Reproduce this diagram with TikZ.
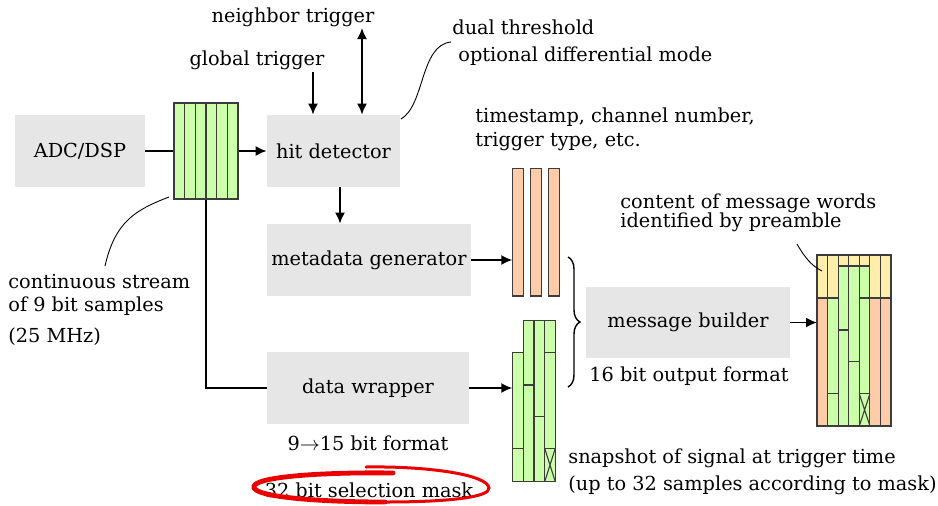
\documentclass[tikz,border=0pt]{standalone}
\usepackage{fontspec}
\setmainfont{DejaVu Serif}
\usetikzlibrary{arrows.meta,decorations.pathreplacing}
\definecolor{boxgray}{RGB}{230,230,230}
\definecolor{cgreen}{RGB}{204,255,170}
\definecolor{csalmon}{RGB}{255,204,170}
\definecolor{cyellow}{RGB}{255,238,170}
\definecolor{cellline}{RGB}{60,60,60}
\definecolor{penred}{RGB}{235,0,0}
\begin{document}
\begin{tikzpicture}[x=0.5pt,y=-0.5pt,
  font=\fontsize{9.65}{11.5}\selectfont,
  graybox/.style={fill=boxgray, draw=none, inner sep=0pt, minimum height=36pt},
  txt/.style={inner sep=0pt},
  ltxt/.style={inner sep=0pt, anchor=west},
  arr/.style={line width=0.85pt, -{Latex[length=5.5pt,width=5pt]}},
  arrboth/.style={line width=0.85pt, {Latex[length=5.5pt,width=5pt]}-{Latex[length=5.5pt,width=5pt]}},
  conn/.style={line width=0.85pt},
  cell/.style={draw=cellline, line width=0.55pt},
  leader/.style={line width=0.45pt}
]
\useasboundingbox (0,0) rectangle (938,505);

% boxes
\node[graybox, minimum width=65pt] (adc) at (80,151) {ADC/DSP};
\node[graybox, minimum width=66.5pt] (hit) at (333.5,151) {hit detector};
\node[graybox, minimum width=102pt] (meta) at (369,260) {metadata generator};
\node[graybox, minimum width=101pt] (wrap) at (368,388) {data wrapper};
\node[graybox, minimum width=102pt, minimum height=35.5pt] (msg) at (688,322.5) {message builder};

% shift register
\node[draw=cellline, fill=cgreen, line width=0.6pt, minimum width=32pt, minimum height=48pt, inner sep=0pt] (reg) at (206,151) {};
\foreach \i in {1,...,5} \draw[cell] (174+\i*10.667,103) -- ++(0,96);

% connectors
\draw[conn] (adc) -- (reg);
\draw[arr] (reg) -- (hit);
\draw[conn] (reg.south) |- (wrap.west);
\draw[arr] ([xshift=3.25pt]hit.south) -- ([xshift=3.25pt]hit.south |- meta.north);

% triggers
\node[txt] (gt) at (257,60) {global trigger};
\node[txt] (nt) at (293,17) {neighbor trigger};
\coordinate (gts) at (313,72);
\draw[arr] (gts) -- (gts |- hit.north);
\coordinate (nts) at (362,28);
\draw[arrboth] (nts) -- (nts |- hit.north);

% dual threshold
\node[ltxt] (dt) at (452,27) {dual threshold};
\node[ltxt] (odm) at (458,56) {optional differential mode};
\coordinate (dta) at (401,119);
\coordinate (dtb) at (451,42);
\draw[leader] (dta) .. controls (425,105) and (420,45) .. (dtb);

% metadata bars
\foreach \x in {512.3,530.3,548.3} \draw[cell, fill=csalmon] (\x,168.3) rectangle ++(11,127.7);
\coordinate (barin) at (512.3,262);
\draw[arr] (meta.east) -- (meta.east -| barin);
\node[ltxt] (ts1) at (475,117) {timestamp, channel number,};
\node[ltxt] (ts2) at (475,142) {trigger type, etc.};

% snapshot
\draw[cell, fill=cgreen] (512.3,352.3) rectangle (523.3,481.7);
\draw[cell, fill=cgreen] (523.3,320.7) rectangle (555.3,481.7);
\draw[cell] (534,320.7) -- (534,481.7) (544.7,320.7) -- (544.7,481.7);
\draw[cell] (512.3,448.3) -- (523.3,448.3);
\draw[cell] (523.3,385) -- (534,385);
\draw[cell] (534,416.7) -- (544.7,416.7);
\draw[cell] (544.7,352.3) -- (555.3,352.3) (544.7,448.3) -- (555.3,448.3);
\draw[cell] (544.7,448.3) -- (555.3,481.7) (555.3,448.3) -- (544.7,481.7);
\coordinate (snapin) at (512.3,388);
\draw[arr] (wrap.east) -- (wrap.east -| snapin);

% brace
\coordinate (bt) at (568,257);
\coordinate (bb) at (568,387);
\draw[decorate, decoration={brace, amplitude=6pt}, line width=0.7pt] (bt) -- (bb);

% output message
\coordinate (outin) at (817,322);
\draw[arr] (msg.east) -- (msg.east -| outin);
\fill[cyellow] (817,255) rectangle (891,298);
\fill[csalmon] (817,298) rectangle (827.6,426);
\fill[csalmon] (869.9,298) rectangle (891,426);
\fill[cgreen] (827.6,298) rectangle (838.1,426);
\fill[cgreen] (838.1,266) rectangle (869.9,426);
\draw[cell] (817,255) rectangle (891,426);
\foreach \x in {827.6,838.1,848.7,859.3,869.9,880.4} \draw[cell] (\x,255) -- (\x,426);
\draw[cell] (817,298) -- (838.1,298) (859.3,298) -- (891,298);
\draw[cell] (838.1,266) -- (869.9,266);
\draw[cell] (827.6,393.7) -- (838.1,393.7);
\draw[cell] (838.1,330) -- (848.7,330);
\draw[cell] (848.7,361.7) -- (859.3,361.7);
\draw[cell] (859.3,393.7) -- (869.9,393.7);
\draw[cell] (859.3,393.7) -- (869.9,426) (869.9,393.7) -- (859.3,426);

\node[ltxt] (cm1) at (620,203) {content of message words};
\node[ltxt] (cm2) at (620,222) {identified by preamble};
\coordinate (cma) at (797,244);
\coordinate (cmb) at (822,271);
\draw[leader] (cma) .. controls (805,258) and (812,266) .. (cmb);

\node[txt] (obf) at (689,376) {16 bit output format};
\node[ltxt] (sn1) at (568,458) {snapshot of signal at trigger time};
\node[ltxt] (sn2) at (568,485) {(up to 32 samples according to mask)};

% continuous stream
\node[ltxt] (cs1) at (8,282) {continuous stream};
\node[ltxt] (cs2) at (8,306) {of 9 bit samples};
\node[ltxt] (cs3) at (8,337) {(25 MHz)};
\coordinate (csa) at (105,266);
\coordinate (csb) at (169,197);
\draw[leader] (csa) .. controls (115,222) and (135,210) .. (csb);

% wrapper labels
\node[txt] (fmt) at (368,443) {9$\to$15 bit format};
\node[txt] (mask) at (369,490) {32 bit selection mask};

% red pen ellipse
\draw[penred, line width=2.4pt, line cap=round] (393,473) .. controls (330,472) and (258,476) .. (254,486) .. controls (250,497) and (320,502) .. (385,502);
\draw[penred, line width=1.5pt, line cap=round] (385,502) .. controls (450,502) and (490,497) .. (489,488) .. controls (488,475) and (430,466) .. (366,467);
\end{tikzpicture}
\end{document}
